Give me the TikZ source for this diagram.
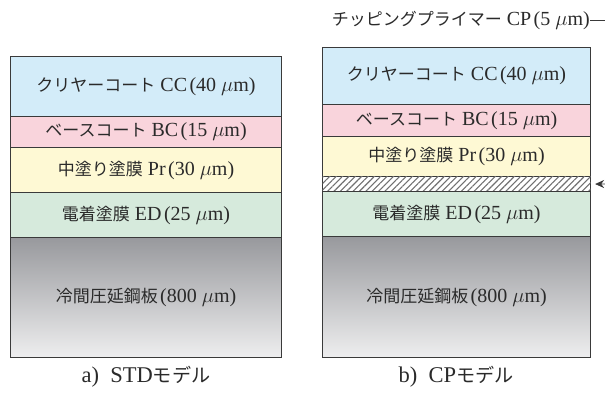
\documentclass[tikz,border=0pt]{standalone}
\usepackage{fontspec}
\setmainfont{Liberation Serif}
\newfontfamily\jp{Noto Sans CJK JP}[Scale=0.85]
\usetikzlibrary{patterns.meta,arrows.meta}
\definecolor{ccc}{HTML}{D3ECF9}
\definecolor{bcc}{HTML}{F9D4DC}
\definecolor{prc}{HTML}{FEF9D4}
\definecolor{edc}{HTML}{D6EADC}
\definecolor{sttop}{HTML}{98999D}
\definecolor{stbot}{HTML}{EEEEEF}
\definecolor{edge}{HTML}{3A3A3A}
\definecolor{txt}{HTML}{2A2A2A}
\definecolor{hatchc}{HTML}{707070}
\newcommand{\J}[1]{{\jp #1}}
\newcommand{\um}{ $\mu$m}
\newcommand{\po}{\hspace{0.12em}(}
\tikzset{
  layer/.style={draw=edge, line width=1.1pt, anchor=north west, inner sep=0pt,
    text=txt, font=\fontsize{20}{24}\selectfont},
  labtext/.style={text=txt, font=\fontsize{20}{24}\selectfont, inner sep=0pt},
  captext/.style={text=txt, font=\fontsize{22.5}{26}\selectfont, inner sep=0pt},
}
\begin{document}
\begin{tikzpicture}[x=1pt,y=-1pt]
\useasboundingbox (0,0) rectangle (605,398);
\begin{scope}
\clip (0,0) rectangle (605,398);
% left: STD model
\node[layer, fill=ccc, minimum width=271pt, minimum height=60pt] (lcc) at (10,56) {\J{クリヤーコート} CC\po40\um)};
\node[layer, fill=bcc, minimum width=271pt, minimum height=31pt] (lbc) at (10,116) {\J{ベースコート} BC\po15\um)};
\node[layer, fill=prc, minimum width=271pt, minimum height=45pt] (lpr) at (10,147) {\J{中塗り塗膜} Pr\po30\um)};
\node[layer, fill=edc, minimum width=271pt, minimum height=45pt] (led) at (10,192) {\J{電着塗膜} ED\po25\um)};
\node[layer, top color=sttop, bottom color=stbot, minimum width=271pt, minimum height=120pt] (lst) at (10,237) {\J{冷間圧延鋼板}\po800\um)};
\node[captext] (lcap) at (146,377) {a)\ \ STD\J{モデル}};
% right: CP model
\node[layer, fill=ccc, minimum width=268pt, minimum height=57pt] (rcc) at (322,47) {\J{クリヤーコート} CC\po40\um)};
\node[layer, fill=bcc, minimum width=268pt, minimum height=32pt] (rbc) at (322,104) {\J{ベースコート} BC\po15\um)};
\node[layer, fill=prc, minimum width=268pt, minimum height=40pt] (rpr) at (322,136) {\J{中塗り塗膜} Pr\po30\um)};
\node[layer, fill=white, minimum width=268pt, minimum height=15pt,
      postaction={pattern={Lines[angle=45,distance=4.5pt,line width=1.1pt]}, pattern color=hatchc}] (rcp) at (322,176) {};
\node[layer, fill=edc, minimum width=268pt, minimum height=45pt] (red) at (322,191) {\J{電着塗膜} ED\po25\um)};
\node[layer, top color=sttop, bottom color=stbot, minimum width=268pt, minimum height=121pt] (rst) at (322,236) {\J{冷間圧延鋼板}\po800\um)};
\node[captext] (rcap) at (456,377) {b)\ \ CP\J{モデル}};
% CP label with leader
\node[labtext, anchor=east] (cptext) at (590,20) {\J{チッピングプライマー} CP\po5\um)};
\coordinate (lend) at (612,20);
\draw[edge, line width=0.8pt] (cptext.east) -- (lend);
\coordinate (aend) at (612,184);
\draw[edge, line width=0.8pt, -{Stealth[length=9pt,width=8pt]}] (aend) -- ([xshift=4pt]rcp.east);
\end{scope}
\end{tikzpicture}
\end{document}
